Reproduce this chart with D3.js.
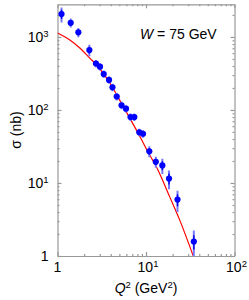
<!DOCTYPE html>
<html>
<head>
<meta charset="utf-8">
<script src="https://cdn.jsdelivr.net/npm/d3@7"></script>
<style>
  body { margin: 0; background: #fff; }
  text { font-family: "Liberation Sans", Arial, sans-serif; fill: #000; }
  .axis path, .axis line { stroke: #999; stroke-width: 1.2; }
</style>
</head>
<body>
<svg id="canvas" width="249" height="300"></svg>
<script>
'use strict';

// measured points
const q2 = [1.11, 1.41, 1.72, 2.29, 2.72, 3.02, 3.33, 3.82, 4.18, 4.67, 5.29,
            5.94, 6.68, 7.38, 8.40, 9.25, 10.9, 12.9, 15.3, 18.2, 22.7, 34.7];
const sigma = [2055, 1563, 1156, 662, 433, 392, 311, 258, 204, 153, 116,
               104, 80, 80, 49.4, 47.2, 27.2, 19.5, 17.4, 11.5, 5.92, 1.58];
const errTot = [483, 220, 168, 120, 51, 46, 36, 30, 24, 18, 14,
                12, 9.3, 9.3, 5.8, 5.5, 4.6, 3.3, 4.1, 3.3, 1.9, 0.65];
const errStat = [300, 130, 100, 70, 30, 28, 22, 18, 14, 11, 8,
                 7, 5.5, 5.5, 3.5, 3.3, 2.8, 2.0, 2.4, 2.0, 1.1, 0.35];

// model curve
const curveQ2 = [1, 1.38, 1.80, 2.33, 2.77, 3.92, 5.54, 8.93, 10.2, 13.6, 18.7, 23.8, 34.2];
const curveSigma = [1130, 907, 699, 510, 413, 232, 111, 39, 28.5, 15.2, 6.3, 3.2, 1.0];

const xTicks = [1, 10, 100];
const yTicks = [1, 10, 100, 1000];

(function() {
    const svg = d3.select('#canvas');
    const left = 57.5, right = 234.5, top = 4.3, bottom = 256;

    const x = d3.scaleLog().domain([1, 100]).range([left, right]);
    const y = d3.scaleLog().domain([1, 2800]).range([bottom, top]);

    function minors(decades, max) {
        let out = [];
        for (let d of decades) {
            for (let k = 2; k <= 9; k++) {
                if (d * k <= max) out.push(d * k);
            }
        }
        return out;
    }
    const xMinor = minors([1, 10], 100);
    const yMinor = minors([1, 10, 100, 1000], 2800);

    // axes, ticks pointing inwards on all four sides
    function addAxis(axisFn, scale, major, minor, transform) {
        const g = svg.append('g').attr('class', 'axis').attr('transform', transform);
        g.call(axisFn(scale).tickValues(major).tickSizeInner(-4).tickSizeOuter(0).tickFormat(''));
        g.append('g').call(axisFn(scale).tickValues(minor).tickSizeInner(-2).tickSizeOuter(0).tickFormat(''))
            .select('.domain').remove();
    }
    addAxis(d3.axisBottom, x, xTicks, xMinor, 'translate(0,' + bottom + ')');
    addAxis(d3.axisTop, x, xTicks, xMinor, 'translate(0,' + top + ')');
    addAxis(d3.axisLeft, y, yTicks, yMinor, 'translate(' + left + ',0)');
    addAxis(d3.axisRight, y, yTicks, yMinor, 'translate(' + right + ',0)');
    svg.selectAll('.axis text').remove();

    // tick labels with superscript exponents
    function powLabel(sel, v) {
        const e = Math.round(Math.log10(v));
        if (e === 0) {
            sel.text('1');
        } else {
            sel.append('tspan').text('10');
            sel.append('tspan').attr('dy', -5).attr('font-size', 9.5).text(e);
        }
    }

    svg.append('g').selectAll('text')
        .data(yTicks)
        .enter().append('text')
            .attr('x', left - 9)
            .attr('y', function(d) { return y(d) + 5; })
            .attr('text-anchor', 'end')
            .attr('font-size', 14)
            .each(function(d) { powLabel(d3.select(this), d); });

    svg.append('g').selectAll('text')
        .data(xTicks)
        .enter().append('text')
            .attr('x', function(d) { return d === 1 ? x(d) : x(d) + 2; })
            .attr('y', 272)
            .attr('text-anchor', 'middle')
            .attr('font-size', 14)
            .each(function(d) { powLabel(d3.select(this), d); });

    // axis titles
    const xt = svg.append('text')
        .attr('x', x(10))
        .attr('y', 293)
        .attr('text-anchor', 'middle')
        .attr('font-size', 14);
    xt.append('tspan').attr('font-style', 'italic').text('Q');
    xt.append('tspan').attr('dy', -5).attr('font-size', 9.5).text('2');
    xt.append('tspan').attr('dy', 5).text(' (GeV');
    xt.append('tspan').attr('dy', -5).attr('font-size', 9.5).text('2');
    xt.append('tspan').attr('dy', 5).text(')');

    svg.append('text')
        .attr('transform', 'translate(21,130) rotate(-90)')
        .attr('text-anchor', 'middle')
        .attr('font-size', 14)
        .text('σ (nb)');

    const wt = svg.append('text')
        .attr('x', 140)
        .attr('y', 38.5)
        .attr('font-size', 14);
    wt.append('tspan').attr('font-style', 'italic').text('W');
    wt.append('tspan').text(' = 75 GeV');

    // plot contents
    svg.append('clipPath').attr('id', 'clip')
        .append('rect')
            .attr('x', left).attr('y', top)
            .attr('width', right - left).attr('height', bottom - top);

    const plot = svg.append('g').attr('clip-path', 'url(#clip)');

    const line = d3.line()
        .x(function(d) { return x(d[0]); })
        .y(function(d) { return y(d[1]); })
        .curve(d3.curveMonotoneX);

    plot.append('path')
        .datum(d3.zip(curveQ2, curveSigma))
        .attr('fill', 'none')
        .attr('stroke', '#ff0000')
        .attr('stroke-width', 1.2)
        .attr('d', line);

    const pts = q2.map(function(q, i) {
        return { q: q, s: sigma[i], et: errTot[i], es: errStat[i] };
    });

    function bottomOf(v) { return v > 0 ? y(v) : bottom + 10; }

    plot.append('g').selectAll('line')
        .data(pts)
        .enter().append('line')
            .attr('x1', function(d) { return x(d.q); })
            .attr('x2', function(d) { return x(d.q); })
            .attr('y1', function(d) { return y(d.s + d.et); })
            .attr('y2', function(d) { return bottomOf(d.s - d.et); })
            .attr('stroke', '#7878ff')
            .attr('stroke-width', 2);

    plot.append('g').selectAll('line')
        .data(pts)
        .enter().append('line')
            .attr('x1', function(d) { return x(d.q); })
            .attr('x2', function(d) { return x(d.q); })
            .attr('y1', function(d) { return y(d.s + d.es); })
            .attr('y2', function(d) { return bottomOf(d.s - d.es); })
            .attr('stroke', '#0000e0')
            .attr('stroke-width', 1.4);

    plot.append('g').selectAll('circle')
        .data(pts)
        .enter().append('circle')
            .attr('cx', function(d) { return x(d.q); })
            .attr('cy', function(d) { return y(d.s); })
            .attr('r', 3.1)
            .attr('fill', '#0000ff');
})();
</script>
</body>
</html>
